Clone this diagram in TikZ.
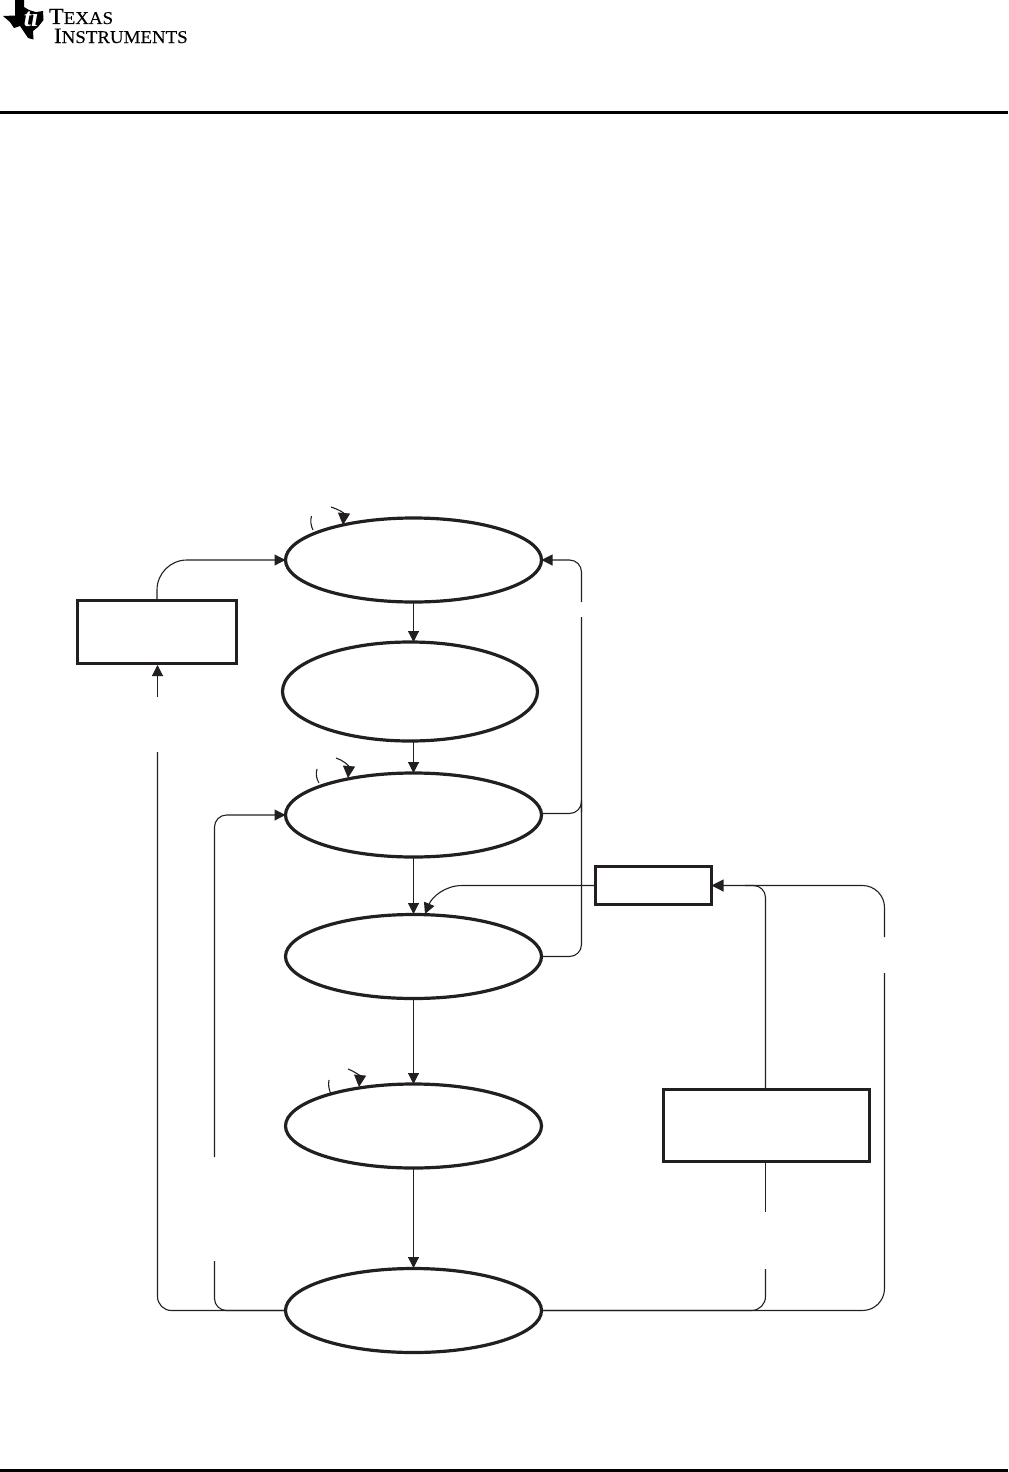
\documentclass[tikz,border=0pt]{standalone}
\usepackage{fontspec}
\setmainfont{Liberation Serif}
\newfontfamily\tifont[FakeStretch=1.05,FakeBold=0.15]{Liberation Serif}
\usetikzlibrary{arrows.meta,shapes.geometric}
\definecolor{ink}{HTML}{231F20}
\tikzset{
  x=0.5pt,y=-0.5pt,
  state/.style={draw=ink,line width=1.6pt,ellipse,minimum width=128pt,minimum height=42pt,inner sep=0pt,outer sep=0pt},
  box/.style={draw=ink,line width=1.5pt,rectangle,inner sep=0pt,outer sep=0pt},
  wire/.style={draw=ink,line width=0.55pt},
  flow/.style={wire,-{Triangle[length=5.5pt,width=5.5pt,fill=ink]}},
  bigflow/.style={wire,-{Triangle[length=6pt,width=6pt,fill=ink]}},
  logo/.style={inner sep=0pt,outer sep=0pt,text=black,anchor=base west},
  rulebar/.style={fill=black,draw=none},
}
\begin{document}
\begin{tikzpicture}
\useasboundingbox (0,0) rectangle (1008,1472);
% page furniture
\fill[rulebar] (0,110.5) rectangle (1008,113.5);
\fill[rulebar] (0,1469) rectangle (1008,1472);
% logo
\fill[black] (15,0) -- (24,0) -- (24,7) -- (29,10) -- (36,12) -- (43,11) -- (43.5,20) -- (38,27) -- (33,31) -- (33.5,39.5) -- (28,38) -- (24,32) -- (20,26) -- (14,28) -- (10,22) -- (3,16) -- (15,15.5) -- cycle;
\node[logo,text=white,font=\bfseries\itshape\fontsize{13pt}{13pt}\selectfont] (logomark) at (24,26) {ti};
\node[logo,font=\tifont\fontsize{11.5pt}{12pt}\selectfont] (logoa) at (49,24) {T\fontsize{9pt}{9pt}\selectfont EXAS};
\node[logo,font=\tifont\fontsize{11pt}{12pt}\selectfont] (logob) at (54,43) {I\fontsize{9pt}{9pt}\selectfont NSTRUMENTS};
% states
\node[state] (e1) at (413.5,560) {};
\node[state,minimum width=127.5pt,minimum height=49.5pt] (e2) at (410,691.5) {};
\node[state] (e3) at (413.5,815) {};
\node[state] (e4) at (413.5,956.5) {};
\node[state] (e5) at (413.5,1126) {};
\node[state] (e6) at (413.5,1310.5) {};
% boxes
\node[box,minimum width=79.5pt,minimum height=31.5pt] (b1) at (157,632) {};
\node[box,minimum width=58pt,minimum height=19pt] (b2) at (653.5,885.5) {};
\node[box,minimum width=103pt,minimum height=36pt] (b3) at (766.5,1125.5) {};
% free ends of broken connectors
\coordinate (a1) at (157.5,697);
\coordinate (a2) at (157.5,752);
\coordinate (c1) at (214.5,1157);
\coordinate (c2) at (214.5,1261);
\coordinate (d1) at (581.5,602);
\coordinate (d2) at (581.5,617);
\coordinate (d3) at (581.5,800);
\coordinate (f1) at (765.5,1212);
\coordinate (f2) at (765.5,1269);
\coordinate (g1) at (884.5,937);
\coordinate (g2) at (884.5,973);
% straight flow
\draw[flow] (413.5,602) -- (413.5,642);
\draw[flow] (413.5,741) -- (413.5,773);
\draw[flow] (413.5,857) -- (413.5,914);
\draw[flow] (413.5,999) -- (413.5,1084);
\draw[flow] (413.5,1168) -- (413.5,1268);
% box 1 to state 1
\draw[flow,rounded corners=15pt] (b1.north) -- (157,560) -- (e1.west);
% state 3 and 4 back to state 1
\draw[flow,rounded corners=6pt] (d1) -- (581.5,560) -- (e1.east);
\draw[wire,rounded corners=6pt] (541,813.5) -- (581.5,813.5) -- (d3) -- (d2);
\draw[wire,rounded corners=6pt] (e4.east) -- (581.5,956.5) -- (d3);
% state 6 back to state 3
\draw[flow,rounded corners=6pt] (c1) -- (214.5,815) -- (e3.west);
\draw[wire,rounded corners=6pt] (c2) -- (214.5,1310.5) -- (e6.west);
% state 6 back to box 1
\draw[flow] (a1) -- (157.5,665);
\draw[wire,rounded corners=7pt] (a2) -- (157.5,1310.5) -- (e6.west);
% state 6 and box 3 to box 2
\draw[wire,rounded corners=7pt] (e6.east) -- (765.5,1310.5) -- (f2);
\draw[wire] (b3.south -| f1) -- (f1);
\draw[wire,rounded corners=11pt] (e6.east) -- (884.5,1310.5) -- (g2);
\draw[bigflow,rounded corners=11pt] (g1) -- (884.5,885.5) -- (b2.east);
\draw[wire,rounded corners=6pt] (b3.north -| f1) -- (765.5,885.5) -- (745,885.5);
% box 2 to state 4
\draw[flow] (b2.west) -- (462,885.5) .. controls (445,885.5) and (432,897) .. (425,914);
% transition marks
\coordinate (m1a) at (311.5,516); \coordinate (m1b) at (313,530);
\coordinate (n1a) at (331,507);   \coordinate (n1b) at (343,525);
\coordinate (m3a) at (317,769);   \coordinate (m3b) at (319,783);
\coordinate (n3a) at (336,758);   \coordinate (n3b) at (348,778);
\coordinate (m5a) at (329,1080);  \coordinate (m5b) at (330.5,1093);
\coordinate (n5a) at (348,1069);  \coordinate (n5b) at (359,1087);
\draw[wire] (m1a) .. controls (310,521) and (311,526) .. (m1b);
\draw[bigflow] (n1a) .. controls (338,509) and (344,513) .. (n1b);
\draw[wire] (m3a) .. controls (315.5,774) and (316.5,779) .. (m3b);
\draw[bigflow] (n3a) .. controls (343,760) and (349,766) .. (n3b);
\draw[wire] (m5a) .. controls (328,1085) and (329,1089) .. (m5b);
\draw[bigflow] (n5a) .. controls (354,1071) and (360,1076) .. (n5b);
\end{tikzpicture}
\end{document}
